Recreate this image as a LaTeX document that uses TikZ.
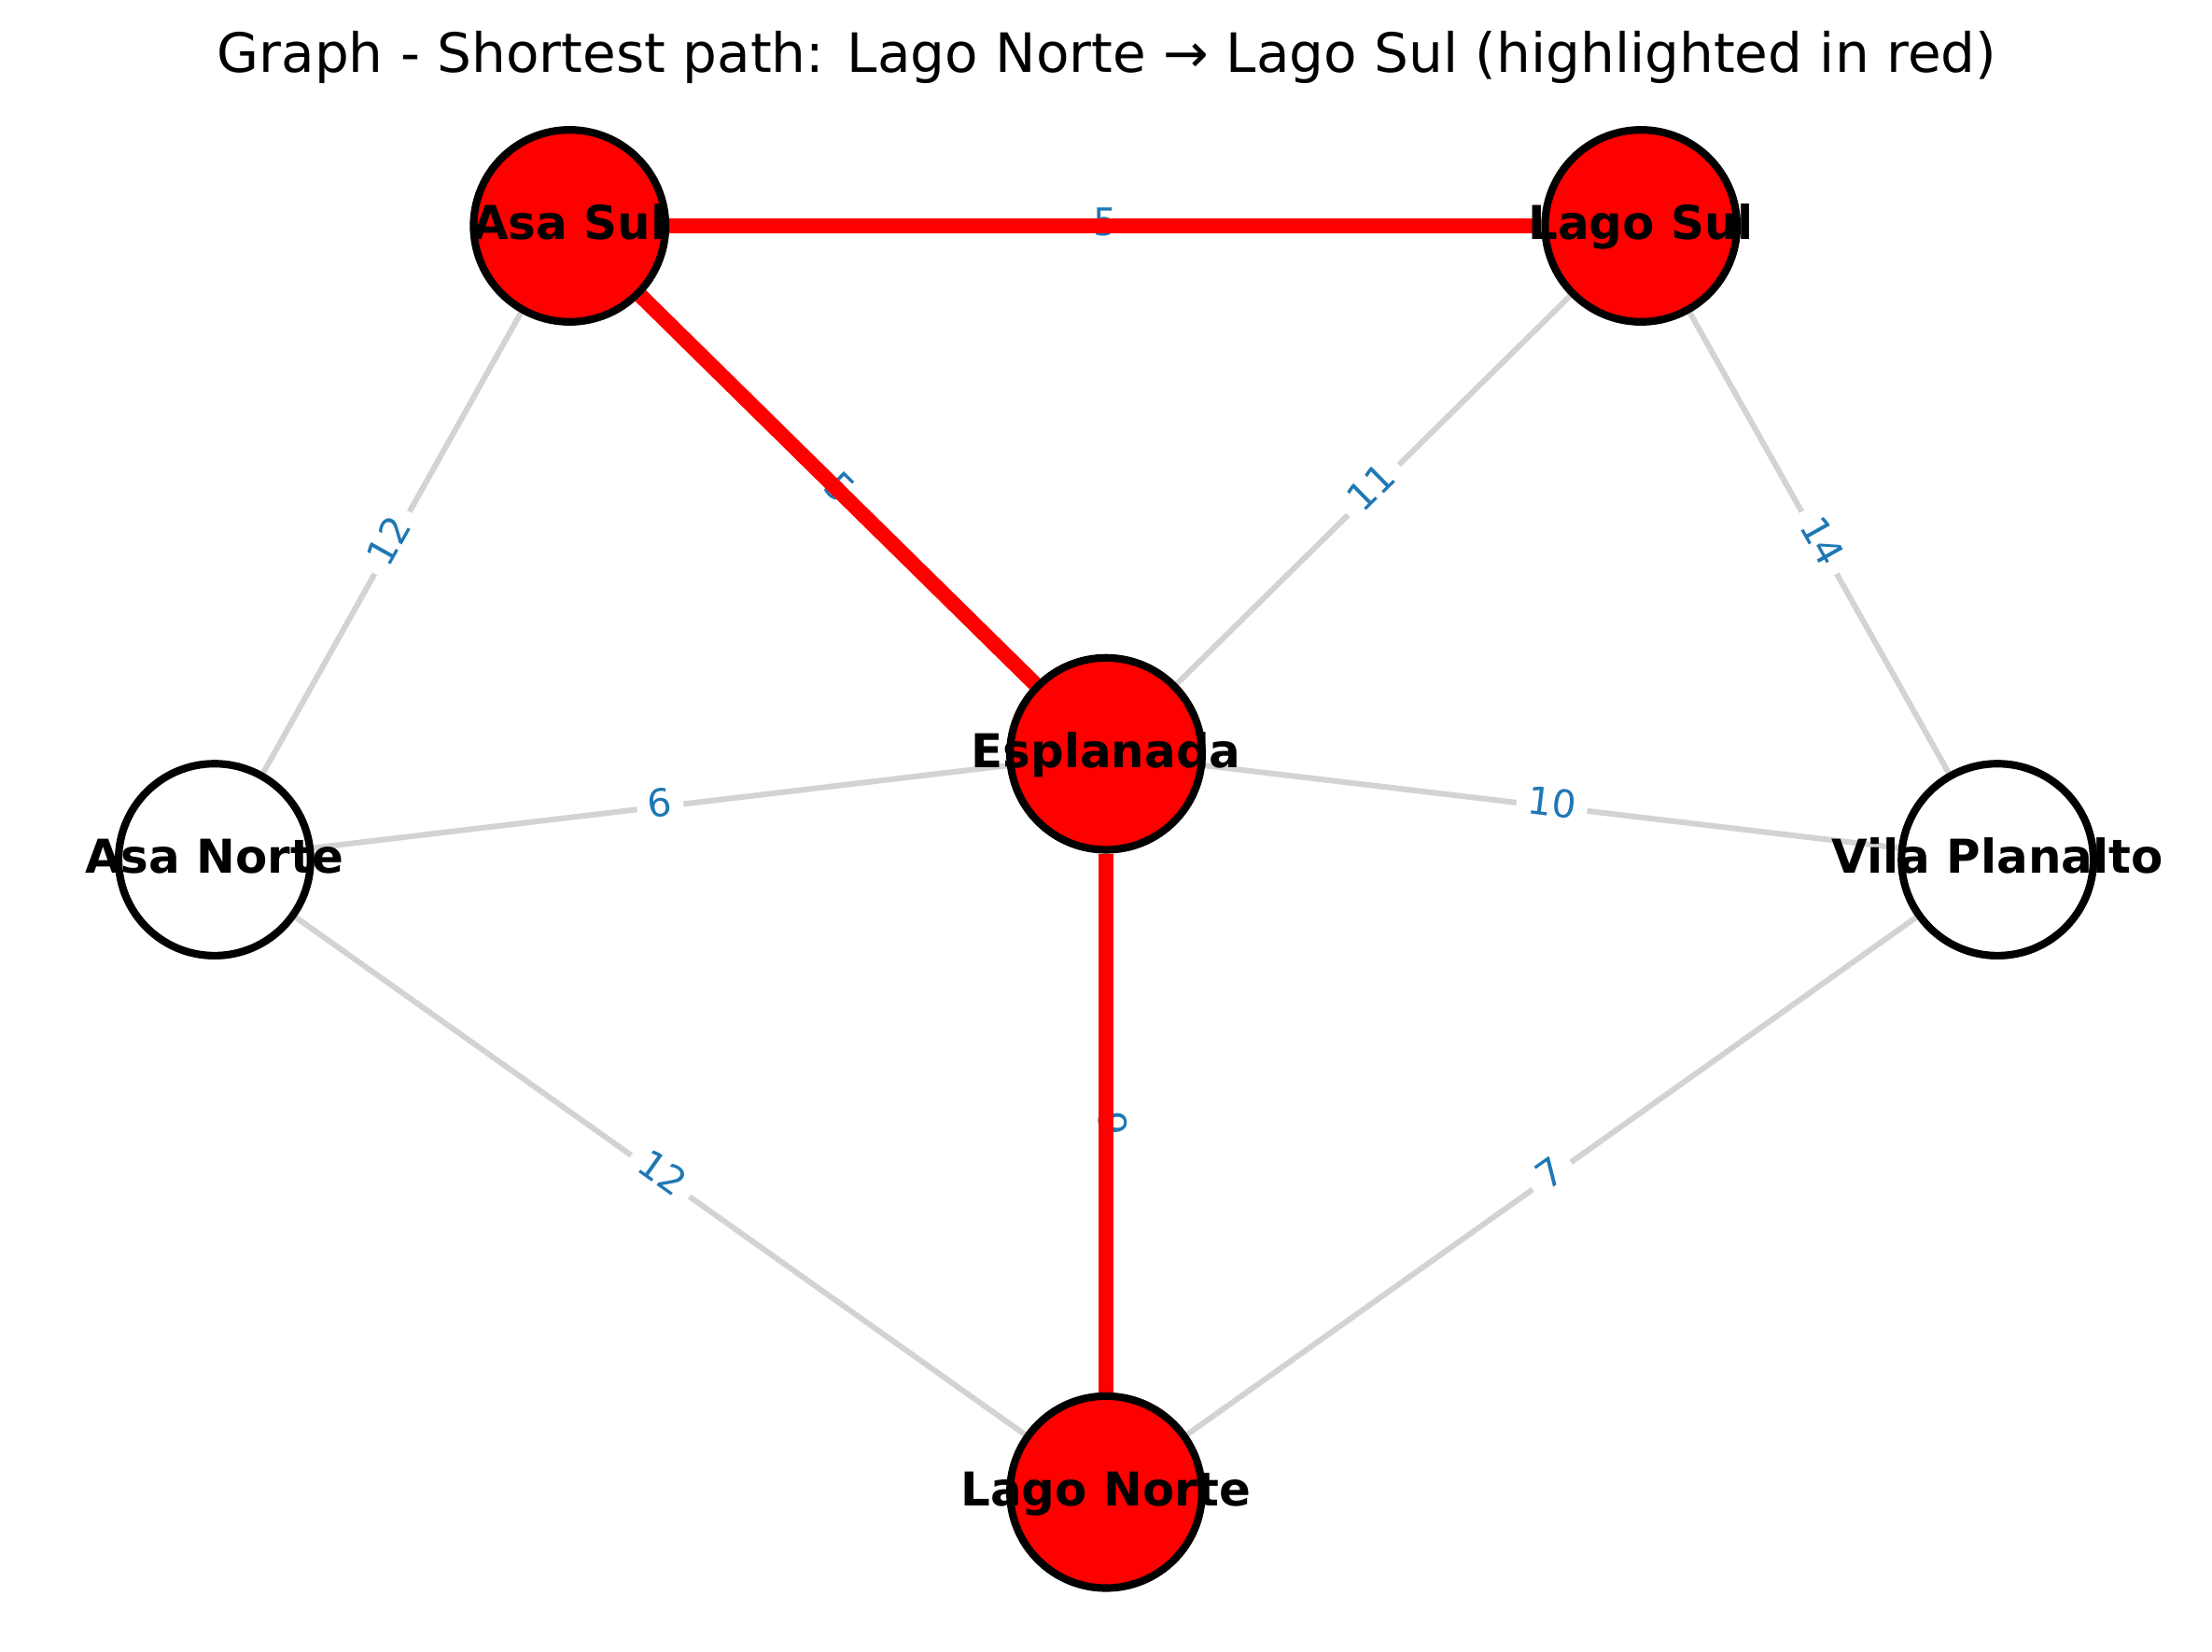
\documentclass[tikz,border=0pt]{standalone}
\usepackage{fontspec}
\setmainfont{DejaVu Sans}
\definecolor{lgray}{HTML}{D3D3D3}
\definecolor{eblue}{HTML}{1F77B4}
\pgfdeclarelayer{edges}
\pgfsetlayers{edges,main}
\begin{document}
\begin{tikzpicture}[x=1pt,y=-1pt,
  vtx/.style={circle,draw=black,line width=5.4pt,minimum size=136pt,inner sep=0pt},
  onpath/.style={vtx,fill=red},
  offpath/.style={vtx,fill=white},
  nlabel/.style={anchor=base,inner sep=0pt,font=\fontsize{33}{40}\selectfont\bfseries},
  grayedge/.style={draw=lgray,line width=4pt},
  rededge/.style={draw=red,line width=10.8pt},
  elabelbase/.style={midway,fill=white,rounded corners=7pt,inner sep=8pt,text=eblue,
    font=\fontsize{27}{32}\selectfont,text height=20.5pt,text depth=6.5pt},
  elabel/.style={elabelbase,sloped}]
\useasboundingbox (0,0) rectangle (1567,1170);

\node[anchor=base,inner sep=0pt,font=\fontsize{38.4}{46}\selectfont] (title) at (784,51)
  {Graph - Shortest path: Lago Norte → Lago Sul (highlighted in red)};

\node[onpath]  (AS) at (403.5,160) {};
\node[onpath]  (LS) at (1162.5,160) {};
\node[onpath]  (E)  at (783.5,534) {};
\node[offpath] (AN) at (152,609) {};
\node[offpath] (VP) at (1415,609) {};
\node[onpath]  (LN) at (783.5,1057) {};

\node[nlabel] (tAS) at ([yshift=-9.5pt]AS.center) {Asa Sul};
\node[nlabel] (tLS) at ([yshift=-9.5pt]LS.center) {Lago Sul};
\node[nlabel] (tE)  at ([yshift=-9.5pt]E.center)  {Esplanada};
\node[nlabel] (tAN) at ([yshift=-9.5pt]AN.center) {Asa Norte};
\node[nlabel] (tVP) at ([yshift=-9.5pt]VP.center) {Vila Planalto};
\node[nlabel] (tLN) at ([yshift=-9.5pt]LN.center) {Lago Norte};

\begin{pgfonlayer}{edges}
  \draw[grayedge] (AN) -- node[elabel] (l1) {12} (AS);
  \draw[grayedge] (E)  -- node[elabel] (l2) {11} (LS);
  \draw[grayedge] (LS) -- node[elabel] (l3) {14} (VP);
  \draw[grayedge] (AN) -- node[elabel] (l4) {6}  (E);
  \draw[grayedge] (E)  -- node[elabel] (l5) {10} (VP);
  \draw[grayedge] (AN) -- node[elabel] (l6) {12} (LN);
  \draw[grayedge] (LN) -- node[elabel] (l7) {7}  (VP);
  \path (AS) -- node[elabel] (l8) {5} (LS);
  \path (AS) -- node[elabel] (l9) {5} (E);
  \path (E) -- node[elabelbase,rotate=-90,text depth=10pt] (l10) {9} (LN);
  \draw[rededge] (AS) -- (LS);
  \draw[rededge] (AS) -- (E);
  \draw[rededge] (E) -- (LN);
\end{pgfonlayer}
\end{tikzpicture}
\end{document}
